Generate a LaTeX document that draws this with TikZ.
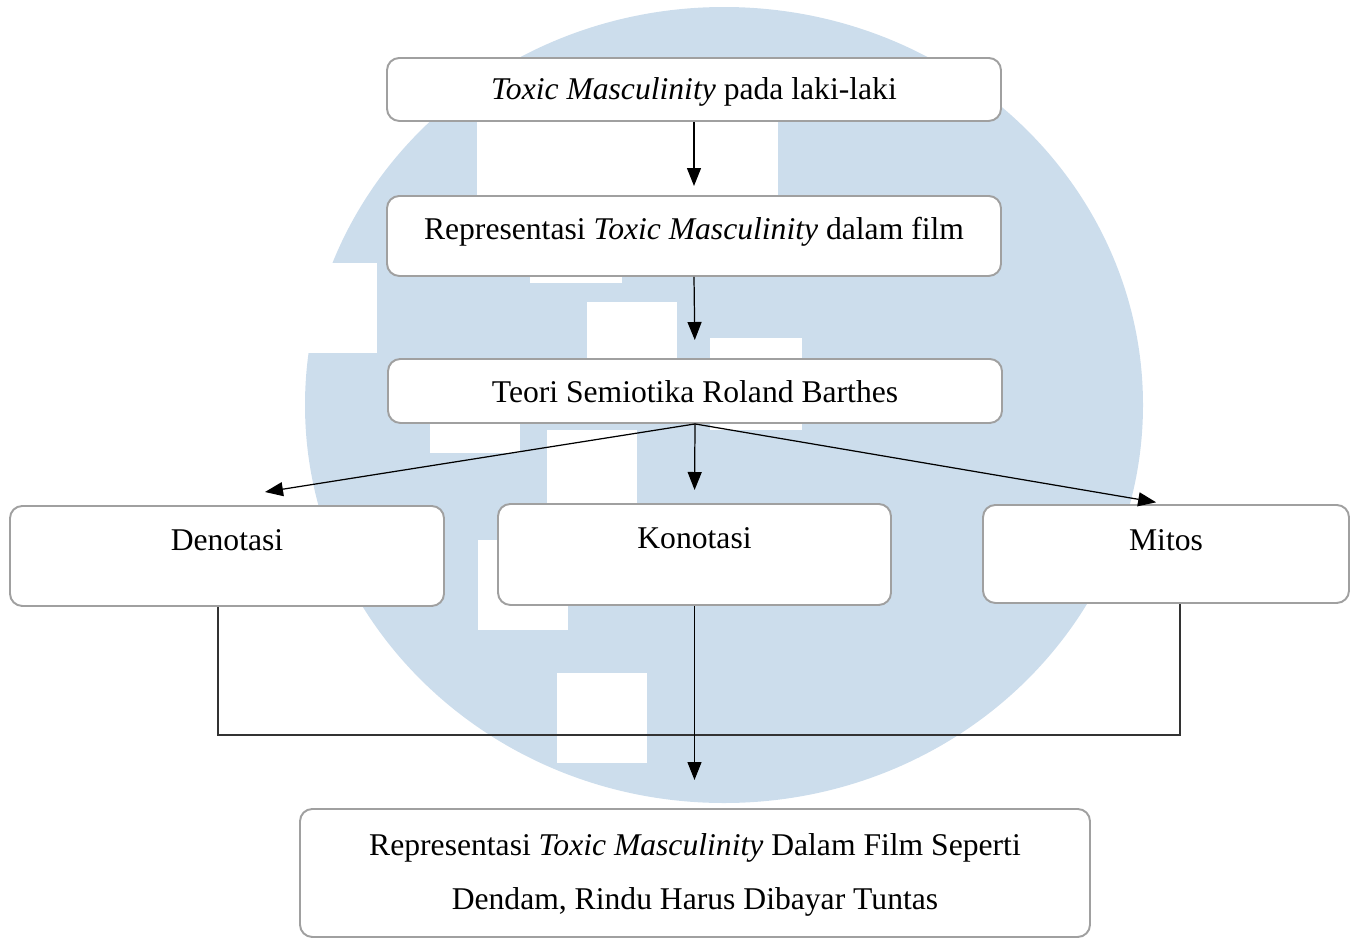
\documentclass[tikz,border=0pt]{standalone}
\usepackage{fontspec}
\setmainfont{Liberation Serif}
\usepackage{xcolor}
\usepackage{tikz}
\usetikzlibrary{arrows.meta, positioning, calc}

\definecolor{logoblue}{RGB}{204,221,236}
\definecolor{boxgray}{RGB}{160,160,160}

\begin{document}
\begin{tikzpicture}[
          box/.style={rectangle, draw=boxgray, fill=white, line width=1.1pt, rounded corners=7pt, inner xsep=0pt, inner ysep=0pt, anchor=north, align=center, font=\fontsize{18}{31}\selectfont},
          arrow/.style={-{Triangle[length=0.36cm, width=0.28cm]}, line width=0.7pt},
          joint/.style={line width=0.8pt, draw=black!80}
        ]
          \useasboundingbox (0,0) rectangle (27.02,-18.76);

          % Watermark in the background
          \fill[logoblue] (14.48,-8.10) ellipse [x radius=8.38, y radius=7.96];
          \fill[white] (9.54,-2.2) rectangle (15.56,-4.0);
          \fill[white] (10.6,-4.0) rectangle (12.44,-5.66);
          \fill[white] (5.8,-5.26) rectangle (7.54,-7.06);
          \fill[white] (11.74,-6.04) rectangle (13.54,-7.3);
          \fill[white] (14.2,-6.76) rectangle (16.04,-8.6);
          \fill[white] (8.6,-7.6) rectangle (10.4,-9.06);
          \fill[white] (10.94,-8.6) rectangle (12.74,-10.2);
          \fill[white] (9.56,-10.8) rectangle (11.36,-12.6);
          \fill[white] (11.14,-13.46) rectangle (12.94,-15.26);

          % Boxes
          \node[box, minimum width=12.28cm, text height=0.84cm, text depth=0.42cm] (toxic) at (13.88,-1.14) {\textit{Toxic Masculinity} pada laki-laki};
          \node[box, minimum width=12.28cm, text height=0.88cm, text depth=0.72cm] (film) at (13.88,-3.9) {Representasi \textit{Toxic Masculinity} dalam film};
          \node[box, minimum width=12.28cm, text height=0.88cm, text depth=0.40cm] (teori) at (13.9,-7.16) {Teori Semiotika Roland Barthes};
          \node[box, minimum width=8.68cm, text height=0.90cm, text depth=1.10cm] (den) at (4.54,-10.1) {Denotasi};
          \node[box, minimum width=7.86cm, text height=0.90cm, text depth=1.12cm] (kon) at (13.89,-10.06) {Konotasi};
          \node[box, minimum width=7.32cm, text height=0.92cm, text depth=1.04cm] (mitos) at (23.32,-10.08) {Mitos};
          \node[box, minimum width=15.8cm, text height=2.02cm, text depth=0.54cm] (hasil) at (13.9,-16.16) {Representasi \textit{Toxic Masculinity} Dalam Film Seperti\\ Dendam, Rindu Harus Dibayar Tuntas};

          % Connections
          \draw[arrow, shorten >=0.18cm] (toxic.south) -- (film.north);
          \draw[arrow, shorten >=0.36cm] (film.south) -- (teori.north);
          \draw[arrow] (teori.south) -- ($(den.north)+(0.76,0.26)$);
          \draw[arrow, shorten >=0.26cm] (teori.south) -- (kon.north);
          \draw[arrow, shorten >=0.2cm] (teori.south) -- (mitos.north);
          \draw[joint] ([xshift=-0.18cm]den.south) -- ++(0,-2.56) -| ([xshift=0.28cm]mitos.south);
          \draw[arrow, shorten >=0.56cm] (kon.south) -- (kon.south |- hasil.north);
        \end{tikzpicture}
\end{document}
